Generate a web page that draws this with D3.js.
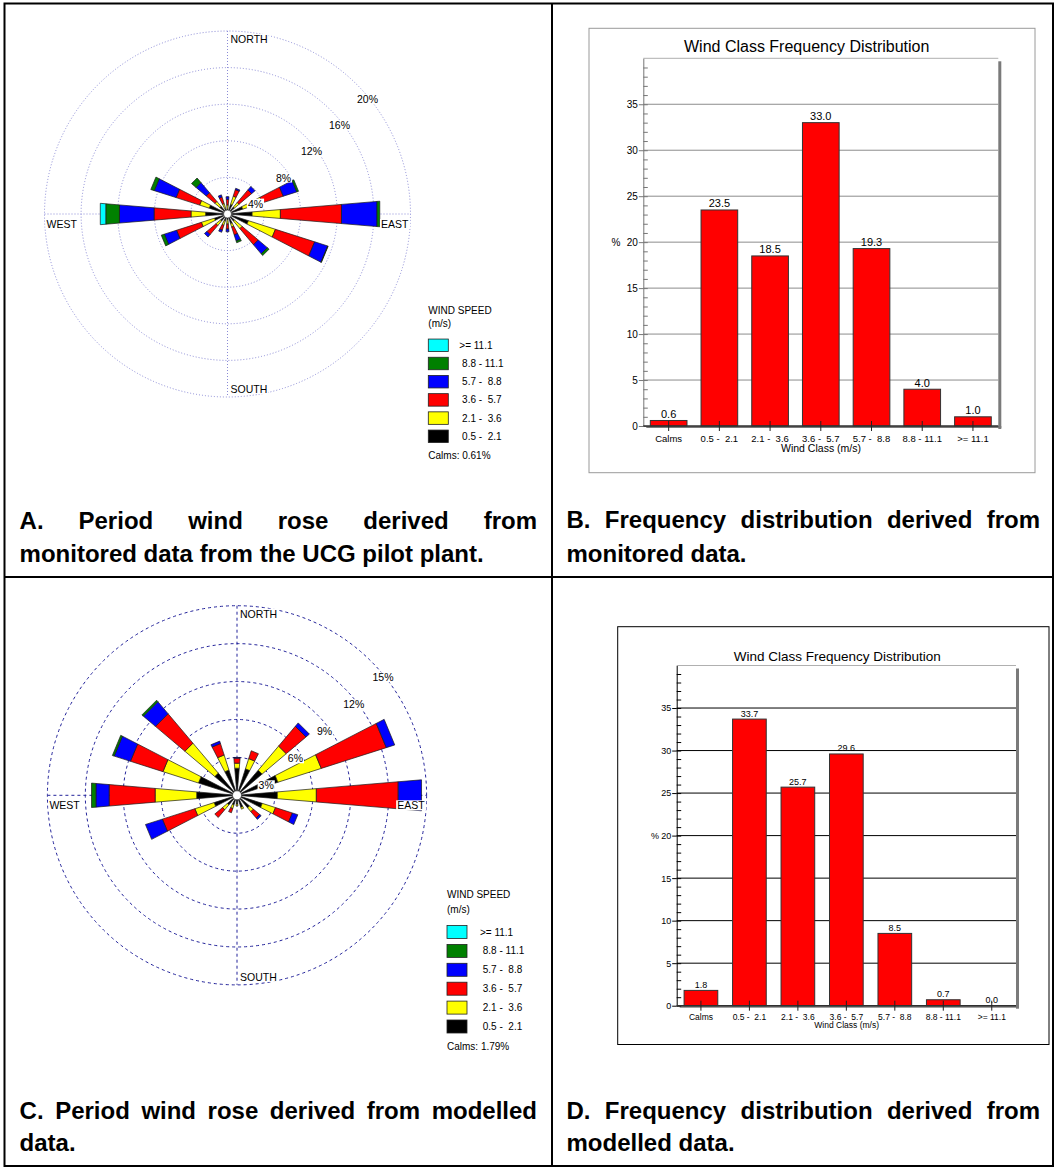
<!DOCTYPE html>
<html><head><meta charset="utf-8">
<script src="https://cdn.jsdelivr.net/npm/d3@7"></script>
<style>
body{margin:0;background:#fff;}
svg{display:block;font-family:"Liberation Sans",Arial,Helvetica,sans-serif;}
text{white-space:pre;}
</style></head><body>
<svg id="fig" width="1055" height="1168"></svg>
<script>
// ---------------- DATA ----------------
const directions = ["N","NNE","NE","ENE","E","ESE","SE","SSE","S","SSW","SW","WSW","W","WNW","NW","NNW"];
const speedClasses = ["0.5 - 2.1","2.1 - 3.6","3.6 - 5.7","5.7 - 8.8","8.8 - 11.1",">= 11.1"];
const speedColors = ["#000000","#ffff00","#ff0000","#0000ff","#008000","#00ffff"];
const legendLabels = [">= 11.1"," 8.8 - 11.1"," 5.7 -  8.8"," 3.6 -  5.7"," 2.1 -  3.6"," 0.5 -  2.1"];
const compassLabels = ["NORTH","EAST","SOUTH","WEST"];

// Rose A (monitored) – percent per speed class, directions N..NNW
const roseA_05_21  = [0.5,1.1,1.0,1.75,2.7,2.4,1.0,1.1,0.6,0.8,1.0,1.5,2.4,2.1,1.1,0.6];
const roseA_21_36  = [0.5,0.95,0.65,2.25,3.1,3.1,1.1,0.4,0.5,0.5,0.65,1.5,1.6,1.1,0.7,0.6];
const roseA_36_57  = [0.6,0.75,1.8,2.4,6.7,4.5,2.3,0.9,0.55,0.55,1.3,2.85,4.05,2.7,1.25,0.75];
const roseA_57_88  = [0.3,0.15,0.5,1.55,3.9,1.5,1.3,0.7,0.3,0.25,0.35,1.4,3.8,2.5,1.45,0.25];
const roseA_88_111 = [0,0,0,0.2,0.3,0.05,0.25,0.2,0,0,0,0.35,1.5,0.4,0.65,0];
const roseA_111    = [0,0,0,0,0,0,0,0,0,0,0,0,0.6,0,0,0];
const ringsA = [4,8,12,16,20];
const calmsA = "Calms: 0.61%";

// Rose C (modelled)
const roseC_05_21  = [2.15,2.2,2.6,3.4,3.2,2.1,1.3,1.0,0.7,0.8,1.0,1.9,3.2,3.2,2.3,2.1];
const roseC_21_36  = [0.4,0.85,2.5,3.6,3.1,1.1,0.4,0.15,0.15,0.3,0.5,1.6,3.3,2.95,3.1,1.25];
const roseC_36_57  = [0.4,0.65,2.05,5.4,6.5,1.4,0.65,0,0,0.35,0.8,2.7,3.65,2.7,3.05,0.95];
const roseC_57_88  = [0.05,0,0.35,0.7,1.85,0.45,0.15,0,0,0,0,1.4,1.05,1.35,1.25,0.2];
const roseC_88_111 = [0,0,0,0,0,0,0,0,0,0,0,0,0.35,0.15,0.15,0];
const roseC_111    = [0,0,0,0,0,0,0,0,0,0,0,0,0,0,0,0];
const ringsC = [3,6,9,12,15];
const calmsC = "Calms: 1.79%";

// Frequency distributions
const windClasses = ["Calms","0.5 -  2.1","2.1 -  3.6","3.6 -  5.7","5.7 -  8.8","8.8 - 11.1",">= 11.1"];
const freqB = [0.6,23.5,18.5,33.0,19.3,4.0,1.0];
const freqD = [1.8,33.7,25.7,29.6,8.5,0.7,0.0];
const yTicks = [0,5,10,15,20,25,30,35];
const barTitle = "Wind Class Frequency Distribution";
const barXTitle = "Wind Class (m/s)";

// Captions
const captionA = ["A. Period wind rose derived from","monitored data from the UCG pilot plant."];
const captionB = ["B. Frequency distribution derived from","monitored data."];
const captionC = ["C. Period wind rose derived from modelled","data."];
const captionD = ["D. Frequency distribution derived from","modelled data."];

// ---------------- DRAWING ----------------
const svg = d3.select("#fig");

// table borders
svg.append("rect").attr("x",4.5).attr("y",3.5).attr("width",1048.5).attr("height",1162.5)
  .attr("fill","none").attr("stroke","#000").attr("stroke-width",2);
svg.append("line").attr("x1",552).attr("x2",552).attr("y1",3.5).attr("y2",1166).attr("stroke","#000").attr("stroke-width",2);
svg.append("line").attr("x1",4.5).attr("x2",1053).attr("y1",577).attr("y2",577).attr("stroke","#000").attr("stroke-width",2);

function bgText(g, txt, x, y, anchor, size) {
  const t = g.append("text").attr("x",x).attr("y",y).attr("text-anchor",anchor)
    .attr("dominant-baseline","central").attr("font-size",size).attr("fill","#000").text(txt);
  const bb = t.node().getBBox();
  g.insert("rect", () => t.node()).attr("x",bb.x-1).attr("y",bb.y+1).attr("width",bb.width+2)
    .attr("height",bb.height-2).attr("fill","#fff");
  return t;
}

function drawRose(cfg) {
  const g = svg.append("g").attr("transform",`translate(${cfg.cx},${cfg.cy})`);
  const r = d3.scaleLinear().domain([0,cfg.maxPct]).range([0,cfg.rMax]);
  const R = r(cfg.maxPct);
  const gridStyle = s => s.attr("fill","none").attr("stroke",cfg.gridColor)
      .attr("stroke-width",cfg.gridWidth).attr("stroke-dasharray",cfg.dash);
  g.selectAll("circle.ring").data(cfg.rings).join("circle").attr("class","ring")
    .attr("r",d=>r(d)).call(gridStyle);
  g.append("line").attr("x1",0).attr("x2",0).attr("y1",-R).attr("y2",R).call(gridStyle);
  g.append("line").attr("y1",0).attr("y2",0).attr("x1",-R).attr("x2",R).call(gridStyle);

  const half = cfg.halfWidth*Math.PI/180;
  const radial = d3.lineRadial().angle(d=>d[0]).radius(d=>d[1]).curve(d3.curveLinearClosed);
  const segs = [];
  directions.forEach((dir,i)=>{
    const ang = i*2*Math.PI/directions.length;
    let cum = 0;
    cfg.series.forEach((arr,k)=>{
      const v = arr[i];
      if (v>0) { segs.push({ang,a:cum,b:cum+v,k}); cum += v; }
    });
  });
  g.selectAll("path.petal").data(segs).join("path").attr("class","petal")
    .attr("d",d=>radial([[d.ang-half,r(d.a)],[d.ang-half,r(d.b)],[d.ang+half,r(d.b)],[d.ang+half,r(d.a)]]))
    .attr("fill",d=>speedColors[d.k]).attr("stroke","#1a1a1a").attr("stroke-width",0.7);
  g.append("circle").attr("r",cfg.centerR).attr("fill","#fff").attr("stroke","#222").attr("stroke-width",0.6);

  // compass labels
  const fs = 10.5;
  bgText(g, compassLabels[0], 3, -R+8, "start", fs);
  bgText(g, compassLabels[2], 3, R-8, "start", fs);
  bgText(g, compassLabels[3], -R+2, 10, "start", fs);
  bgText(g, compassLabels[1], R-2, 10, "end", fs);
  // ring labels
  cfg.rings.forEach(v=>{
    const rr = r(v);
    bgText(g, v+"%", cfg.kx*rr, cfg.off - cfg.ky*rr, "middle", fs);
  });
}

function drawLegend(cfg) {
  const g = svg.append("g").attr("font-size",10);
  g.append("text").attr("x",cfg.x).attr("y",cfg.titleY).attr("dominant-baseline","central").text("WIND SPEED");
  g.append("text").attr("x",cfg.x).attr("y",cfg.titleY+cfg.sub).attr("dominant-baseline","central").text("(m/s)");
  const order = d3.range(speedClasses.length).reverse();
  const rows = g.selectAll("g.row").data(order).join("g").attr("class","row")
    .attr("transform",(k,j)=>`translate(${cfg.x},${cfg.rowY + j*cfg.step})`);
  rows.append("rect").attr("x",0).attr("y",-cfg.h/2).attr("width",20).attr("height",cfg.h)
    .attr("fill",k=>speedColors[k]).attr("stroke","#222").attr("stroke-width",0.8);
  rows.append("text").attr("x",cfg.lx).attr("y",0).attr("dominant-baseline","central")
    .text((k,j)=>legendLabels[j]);
  g.append("text").attr("x",cfg.x).attr("y",cfg.calmsY).attr("dominant-baseline","central").text(cfg.calms);
}

drawRose({cx:227.5, cy:214, rMax:183, maxPct:20, rings:ringsA,
  series:[roseA_05_21,roseA_21_36,roseA_36_57,roseA_57_88,roseA_88_111,roseA_111],
  gridColor:"#8a8ad6", gridWidth:1, dash:"1,2", halfWidth:4.8, centerR:4,
  kx:0.765, ky:0.7125, off:15.7});
drawLegend({x:428.3, titleY:310, sub:13.3, rowY:345.3, step:18.2, h:12.5, lx:31, calmsY:455, calms:calmsA});

drawRose({cx:237, cy:795.3, rMax:189.6, maxPct:15, rings:ringsC,
  series:[roseC_05_21,roseC_21_36,roseC_36_57,roseC_57_88,roseC_88_111,roseC_111],
  gridColor:"#22229a", gridWidth:1, dash:"3,3", halfWidth:4.8, centerR:4.5,
  kx:0.77, ky:0.712, off:17});
drawLegend({x:447, titleY:894.5, sub:15, rowY:932, step:18.9, h:13, lx:33, calmsY:1046, calms:calmsC});

function drawBars(cfg) {
  const g = svg.append("g");
  g.append("rect").attr("x",cfg.bx0).attr("y",cfg.by0).attr("width",cfg.bx1-cfg.bx0).attr("height",cfg.by1-cfg.by0)
    .attr("fill","#fff").attr("stroke",cfg.boxColor).attr("stroke-width",1);
  const x = d3.scaleBand().domain(windClasses).range([cfg.x0,cfg.x1]).paddingInner(cfg.pad).paddingOuter(cfg.pad/2);
  const y = d3.scaleLinear().domain([0,40]).range([cfg.y1,cfg.y0]);
  // shadow frame
  g.append("rect").attr("x",cfg.x1).attr("y",cfg.y0+3).attr("width",3).attr("height",cfg.y1-cfg.y0).attr("fill","#7a7a7a");
  g.append("rect").attr("x",cfg.x0+3).attr("y",cfg.y1).attr("width",cfg.x1-cfg.x0).attr("height",2).attr("fill","#7a7a7a");
  g.append("line").attr("x1",cfg.x0).attr("x2",cfg.x1).attr("y1",cfg.y0).attr("y2",cfg.y0).attr("stroke","#b0b0b0");
  // grid
  g.selectAll("line.grid").data(yTicks.filter(d=>d>0)).join("line").attr("class","grid")
    .attr("x1",cfg.x0).attr("x2",cfg.x1).attr("y1",d=>y(d)).attr("y2",d=>y(d))
    .attr("stroke",cfg.gridColor).attr("stroke-width",1);
  // minor ticks (inside)
  const minor = g.append("g").attr("transform",`translate(${cfg.x0},0)`)
    .call(d3.axisLeft(y).tickValues(d3.range(0,40)).tickSize(-4.5).tickFormat(""));
  minor.select(".domain").remove();
  minor.selectAll("line").attr("stroke",cfg.axisColor);
  // major axis
  const ay = g.append("g").attr("transform",`translate(${cfg.x0},0)`)
    .call(d3.axisLeft(y).tickValues(yTicks).tickSize(4.5).tickPadding(1).tickSizeOuter(0));
  ay.select(".domain").attr("stroke",cfg.axisColor);
  ay.selectAll("line").attr("stroke",cfg.axisColor);
  ay.selectAll("text").attr("font-size",cfg.tickFs).attr("font-family",null).attr("fill","#000");
  g.append("text").attr("x",cfg.pctX).attr("y",y(20)).attr("dominant-baseline","central")
    .attr("text-anchor","middle").attr("font-size",cfg.tickFs).text("%");
  // bars
  g.selectAll("rect.bar").data(cfg.data).join("rect").attr("class","bar")
    .attr("x",(d,i)=>x(windClasses[i])).attr("width",x.bandwidth())
    .attr("y",d=>y(d)).attr("height",d=>y(0)-y(d))
    .attr("fill","#ff0000").attr("stroke","#333").attr("stroke-width",1);
  g.selectAll("text.val").data(cfg.data).join("text").attr("class","val")
    .attr("x",(d,i)=>x(windClasses[i])+x.bandwidth()/2).attr("y",d=>y(d)-cfg.valGap)
    .attr("text-anchor","middle").attr("font-size",cfg.valFs).text(d=>d3.format(".1f")(d));
  // bottom axis
  g.append("line").attr("x1",cfg.x0).attr("x2",cfg.x1).attr("y1",cfg.y1).attr("y2",cfg.y1).attr("stroke","#303030").attr("stroke-width",1.5);
  const ax = g.append("g").attr("transform",`translate(0,${cfg.y1})`)
    .call(d3.axisBottom(x).tickSize(5).tickPadding(cfg.xPad).tickSizeOuter(0));
  ax.select(".domain").remove();
  ax.selectAll("line").attr("stroke","#222");
  ax.selectAll("text").attr("font-size",cfg.xFs).attr("font-family",null).attr("fill","#000");
  const ax2 = g.append("g").attr("transform",`translate(0,${cfg.y1})`)
    .call(d3.axisBottom(x).tickSize(-5).tickFormat(""));
  ax2.select(".domain").remove();
  ax2.selectAll("line").attr("stroke","#222");
  // titles
  g.append("text").attr("x",cfg.titleX).attr("y",cfg.titleY).attr("text-anchor","middle")
    .attr("dominant-baseline","central").attr("font-size",cfg.titleFs).text(barTitle);
  g.append("text").attr("x",cfg.xtX).attr("y",cfg.xtY).attr("text-anchor","middle")
    .attr("dominant-baseline","central").attr("font-size",cfg.xtFs).text(barXTitle);
}

drawBars({bx0:589, by0:28.3, bx1:1035, by1:472.7, boxColor:"#9a9a9a",
  x0:643.3, x1:998.3, y0:58.3, y1:426, pad:0.277, data:freqB,
  gridColor:"#8c8c8c", axisColor:"#777", tickFs:10, pctX:616, valFs:11, valGap:2.5,
  xFs:9.5, xPad:4, titleX:806.7, titleY:46.7, titleFs:16, xtX:821, xtY:447.7, xtFs:10.5});

drawBars({bx0:617.7, by0:626.7, bx1:1049, by1:1044.5, boxColor:"#000",
  x0:676.7, x1:1016, y0:665.5, y1:1005.7, pad:0.305, data:freqD,
  gridColor:"#000", axisColor:"#000", tickFs:9, pctX:655, valFs:9, valGap:2.5,
  xFs:8.5, xPad:3, titleX:837.3, titleY:656.7, titleFs:13.5, xtX:846.7, xtY:1025.3, xtFs:8.5});

// captions (justified first line)
function caption(lines, x0, x1, yc) {
  const fs = 24;
  lines.forEach((ln,i)=>{
    const words = ln.split(" ");
    const g = svg.append("g").attr("font-size",fs).attr("font-weight","bold");
    const ts = words.map(w=>g.append("text").attr("y",yc[i]).attr("dominant-baseline","central").text(w));
    const ws = ts.map(t=>t.node().getComputedTextLength());
    const gap = (i===0) ? (x1-x0-d3.sum(ws))/(words.length-1) : fs*0.278;
    let cx = x0;
    ts.forEach((t,j)=>{ t.attr("x",cx); cx += ws[j]+gap; });
  });
}
caption(captionA, 19.6, 537, [520.5,553]);
caption(captionB, 566.5, 1040, [519.5,553]);
caption(captionC, 19.6, 537, [1110,1142]);
caption(captionD, 566.5, 1040, [1110,1142]);
</script>
</body></html>
